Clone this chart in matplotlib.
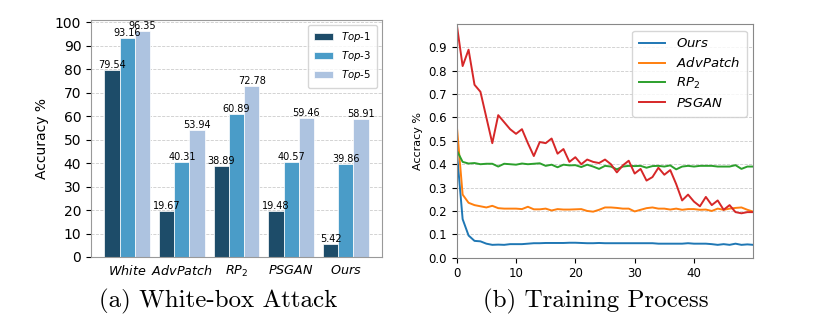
import numpy as np
import matplotlib
matplotlib.use("Agg")
import matplotlib.pyplot as plt

plt.rcParams['mathtext.fontset'] = 'dejavusans'

# (a) white-box attack
methods = [r"$\it{White}$", r"$\it{AdvPatch}$", r"$\it{RP_2}$", r"$\it{PSGAN}$", r"$\it{Ours}$"]
top1 = [79.54, 19.67, 38.89, 19.48, 5.42]
top3 = [93.16, 40.31, 60.89, 40.57, 39.86]
top5 = [96.35, 53.94, 72.78, 59.46, 58.91]
bar_names = [r"$\it{Top}$-1", r"$\it{Top}$-3", r"$\it{Top}$-5"]
bar_colors = ["#1d4c69", "#4a9cc8", "#adc3e0"]

# (b) training process
ours = [0.46, 0.165, 0.095, 0.072, 0.070, 0.060, 0.055, 0.056, 0.055, 0.058,
        0.058, 0.058, 0.060, 0.062, 0.062, 0.063, 0.063, 0.063, 0.063, 0.064,
        0.064, 0.063, 0.062, 0.062, 0.063, 0.062, 0.062, 0.062, 0.062, 0.062,
        0.062, 0.062, 0.062, 0.062, 0.060, 0.060, 0.060, 0.060, 0.060, 0.062,
        0.060, 0.060, 0.060, 0.058, 0.055, 0.058, 0.055, 0.060, 0.055, 0.057,
        0.055]
advpatch = [0.57, 0.27, 0.235, 0.225, 0.220, 0.215, 0.222, 0.212, 0.210, 0.210,
            0.210, 0.208, 0.218, 0.207, 0.207, 0.210, 0.202, 0.208, 0.206, 0.206,
            0.207, 0.208, 0.200, 0.197, 0.205, 0.215, 0.215, 0.213, 0.210, 0.210,
            0.198, 0.205, 0.212, 0.215, 0.210, 0.210, 0.206, 0.210, 0.205, 0.208,
            0.208, 0.205, 0.206, 0.200, 0.210, 0.205, 0.210, 0.213, 0.215, 0.205,
            0.197]
rp2 = [0.46, 0.41, 0.403, 0.405, 0.400, 0.402, 0.402, 0.390, 0.402, 0.400,
       0.398, 0.403, 0.400, 0.402, 0.404, 0.393, 0.398, 0.387, 0.398, 0.395,
       0.396, 0.388, 0.398, 0.390, 0.380, 0.393, 0.390, 0.378, 0.390, 0.393,
       0.392, 0.393, 0.385, 0.392, 0.393, 0.390, 0.395, 0.378, 0.390, 0.393,
       0.390, 0.393, 0.393, 0.393, 0.390, 0.390, 0.390, 0.396, 0.380, 0.390,
       0.390]
psgan = [1.00, 0.82, 0.89, 0.74, 0.71, 0.60, 0.49, 0.61, 0.58, 0.55,
         0.53, 0.55, 0.49, 0.435, 0.495, 0.49, 0.51, 0.445, 0.465, 0.41,
         0.43, 0.40, 0.42, 0.41, 0.405, 0.42, 0.40, 0.365, 0.395, 0.415,
         0.36, 0.38, 0.33, 0.345, 0.385, 0.355, 0.375, 0.315, 0.245, 0.27,
         0.24, 0.22, 0.26, 0.225, 0.245, 0.205, 0.225, 0.195, 0.19, 0.195,
         0.195]
line_names = [r"$\it{Ours}$", r"$\it{AdvPatch}$", r"$\it{RP_2}$", r"$\it{PSGAN}$"]
line_colors = ["#1f77b4", "#ff7f0e", "#2ca02c", "#d62728"]

fig = plt.figure(figsize=(8.24, 3.29), dpi=100)

# ---- left: bars
ax1 = fig.add_axes([91/824, 72/329, 291/824, 237.3/329])
x = np.arange(len(methods))
w = 0.28
for i, (vals, name, c) in enumerate(zip([top1, top3, top5], bar_names, bar_colors)):
    bars = ax1.bar(x + (i - 1) * w, vals, w, color=c, label=name,
                   edgecolor="white", linewidth=0.5)
    for b, v in zip(bars, vals):
        ax1.text(b.get_x() + b.get_width() / 2, b.get_height(), f"{v:.2f}",
                 ha="center", va="bottom", fontsize=7)
ax1.set_xticks(x)
ax1.set_xticklabels(methods, fontsize=9.2)
ax1.set_yticks(np.arange(0, 101, 10))
ax1.tick_params(axis="y", labelsize=10)
ax1.tick_params(axis="x", length=0, pad=5)
ax1.set_ylabel("Accuracy %", fontsize=10)
ax1.grid(axis="y", linestyle="--", color="#cccccc", linewidth=0.6)
ax1.set_axisbelow(True)
ax1.legend(loc="upper right", fontsize=7.3, handlelength=1.9, borderpad=0.55,
           labelspacing=0.5)
for s in ax1.spines.values():
    s.set_color("#999999")

# ---- right: lines
ax2 = fig.add_axes([456.7/824, 71.3/329, 296.6/824, 233.7/329])
epochs = np.arange(len(psgan))
for vals, name, c in zip([ours, advpatch, rp2, psgan], line_names, line_colors):
    ax2.plot(epochs, vals, color=c, linewidth=1.4, label=name)
ax2.set_xlim(0, 50)
ax2.set_ylim(0, 1.0)
ax2.set_yticks(np.arange(0, 1.0, 0.1))
ax2.set_yticklabels([f"{v:.1f}" for v in np.arange(0, 1.0, 0.1)])
ax2.set_xticks([0, 10, 20, 30, 40])
ax2.tick_params(labelsize=8.5)
ax2.set_ylabel("Accracy %", fontsize=8)
ax2.grid(axis="y", linestyle="--", color="#cccccc", linewidth=0.6)
ax2.legend(loc="upper right", fontsize=9.5, handlelength=2.0, borderpad=0.5,
           labelspacing=0.45)
for s in ax2.spines.values():
    s.set_color("#888888")

# captions
fig.text(218/824, 1 - 301/329, "(a) White-box Attack", family="cmr10",
         fontsize=18, ha="center", va="center")
fig.text(596/824, 1 - 301/329, "(b) Training Process", family="cmr10",
         fontsize=18, ha="center", va="center")

fig.savefig("out.png", dpi=100)
